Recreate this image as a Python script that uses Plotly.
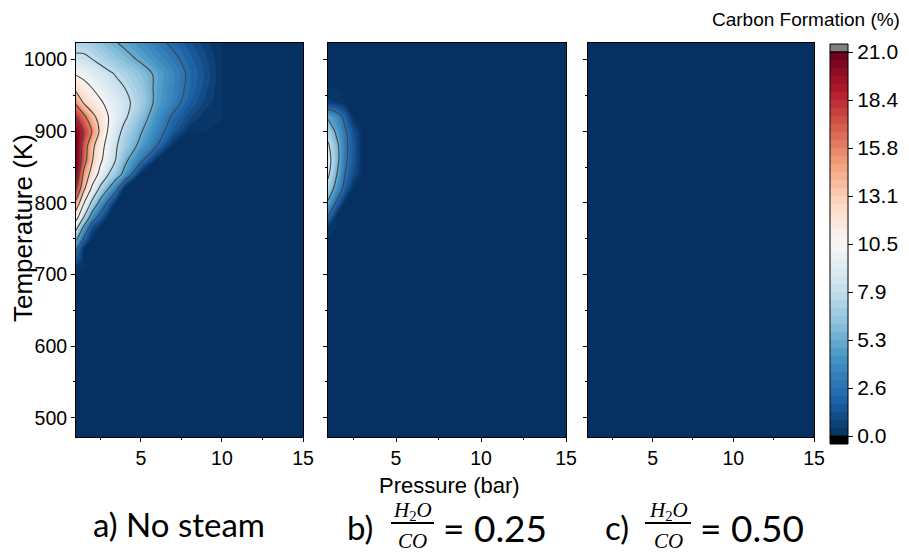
import plotly.graph_objects as go

# ---------------- data ----------------
pressure = [1, 1.5, 2, 2.5, 3, 3.5, 4, 5, 6, 7, 8, 9, 10, 11, 12, 15]
temperature = [473.15, 700, 710, 720, 735, 750, 765, 780, 800, 820, 840, 860,
               880, 900, 920, 940, 960, 980, 1000, 1023.15]

# a) No steam  (rows follow temperature, columns follow pressure)
carbon_a = [
    [0, 0, 0, 0, 0, 0, 0, 0, 0, 0, 0, 0, 0, 0, 0, 0],
    [0, 0, 0, 0, 0, 0, 0, 0, 0, 0, 0, 0, 0, 0, 0, 0],
    [0.3, 0, 0, 0, 0, 0, 0, 0, 0, 0, 0, 0, 0, 0, 0, 0],
    [1.5, 0, 0, 0, 0, 0, 0, 0, 0, 0, 0, 0, 0, 0, 0, 0],
    [3.0, 0, 0, 0, 0, 0, 0, 0, 0, 0, 0, 0, 0, 0, 0, 0],
    [5.8, 2.2, 0, 0, 0, 0, 0, 0, 0, 0, 0, 0, 0, 0, 0, 0],
    [8.5, 4.5, 1.2, 0, 0, 0, 0, 0, 0, 0, 0, 0, 0, 0, 0, 0],
    [11.5, 7.7, 4.0, 1.8, 0, 0, 0, 0, 0, 0, 0, 0, 0, 0, 0, 0],
    [15.0, 10.5, 7.3, 4.5, 2.2, 0, 0, 0, 0, 0, 0, 0, 0, 0, 0, 0],
    [18.5, 13.5, 10.0, 7.4, 5.25, 3.1, 0, 0, 0, 0, 0, 0, 0, 0, 0, 0],
    [20.5, 15.0, 12.0, 9.8, 7.9, 6.3, 4.6, 0, 0, 0, 0, 0, 0, 0, 0, 0],
    [21.0, 16.8, 13.3, 10.9, 9.2, 7.7, 5.8, 3.1, 0, 0, 0, 0, 0, 0, 0, 0],
    [21.0, 17.2, 13.8, 11.4, 9.6, 8.0, 6.8, 4.7, 2.6, 0, 0, 0, 0, 0, 0, 0],
    [20.5, 18.0, 15.6, 12.6, 10.2, 8.6, 7.3, 5.4, 3.5, 1.6, 0, 0, 0, 0, 0, 0],
    [18.3, 16.3, 13.8, 12.2, 10.5, 9.3, 8.2, 6.2, 4.1, 2.3, 1.0, 0.1, 0, 0, 0, 0],
    [15.3, 12.8, 11.7, 10.8, 9.9, 9.1, 8.4, 6.9, 4.7, 3.3, 1.8, 0.7, 0, 0, 0, 0],
    [12.5, 11.4, 10.5, 9.7, 9.0, 8.4, 7.9, 6.6, 4.8, 3.5, 2.2, 1.0, 0, 0, 0, 0],
    [10.3, 9.8, 9.3, 8.7, 8.2, 7.7, 7.2, 6.1, 4.9, 3.6, 2.3, 1.2, 0, 0, 0, 0],
    [8.3, 8.3, 7.9, 7.4, 6.9, 6.4, 5.9, 5.0, 4.0, 3.0, 2.0, 1.0, 0, 0, 0, 0],
    [7.2, 7.1, 6.7, 6.2, 5.7, 5.3, 4.9, 4.0, 3.1, 2.3, 1.4, 0.6, 0, 0, 0, 0],
]

# b) H2O/CO = 0.25
carbon_b = [
    [0, 0, 0, 0, 0, 0, 0, 0, 0, 0, 0, 0, 0, 0, 0, 0],
    [0, 0, 0, 0, 0, 0, 0, 0, 0, 0, 0, 0, 0, 0, 0, 0],
    [0, 0, 0, 0, 0, 0, 0, 0, 0, 0, 0, 0, 0, 0, 0, 0],
    [0, 0, 0, 0, 0, 0, 0, 0, 0, 0, 0, 0, 0, 0, 0, 0],
    [0, 0, 0, 0, 0, 0, 0, 0, 0, 0, 0, 0, 0, 0, 0, 0],
    [0, 0, 0, 0, 0, 0, 0, 0, 0, 0, 0, 0, 0, 0, 0, 0],
    [0.3, 0, 0, 0, 0, 0, 0, 0, 0, 0, 0, 0, 0, 0, 0, 0],
    [2.6, 0, 0, 0, 0, 0, 0, 0, 0, 0, 0, 0, 0, 0, 0, 0],
    [4.9, 2.3, 0, 0, 0, 0, 0, 0, 0, 0, 0, 0, 0, 0, 0, 0],
    [7.0, 4.3, 1.9, 0, 0, 0, 0, 0, 0, 0, 0, 0, 0, 0, 0, 0],
    [8.3, 5.4, 2.6, 1.1, 0, 0, 0, 0, 0, 0, 0, 0, 0, 0, 0, 0],
    [8.8, 6.1, 3.0, 1.5, 0, 0, 0, 0, 0, 0, 0, 0, 0, 0, 0, 0],
    [8.2, 5.9, 3.1, 1.6, 0, 0, 0, 0, 0, 0, 0, 0, 0, 0, 0, 0],
    [7.0, 4.8, 2.9, 1.2, 0, 0, 0, 0, 0, 0, 0, 0, 0, 0, 0, 0],
    [4.9, 3.8, 2.0, 0, 0, 0, 0, 0, 0, 0, 0, 0, 0, 0, 0, 0],
    [0.6, 0.4, 0, 0, 0, 0, 0, 0, 0, 0, 0, 0, 0, 0, 0, 0],
    [0, 0, 0, 0, 0, 0, 0, 0, 0, 0, 0, 0, 0, 0, 0, 0],
    [0, 0, 0, 0, 0, 0, 0, 0, 0, 0, 0, 0, 0, 0, 0, 0],
    [0, 0, 0, 0, 0, 0, 0, 0, 0, 0, 0, 0, 0, 0, 0, 0],
    [0, 0, 0, 0, 0, 0, 0, 0, 0, 0, 0, 0, 0, 0, 0, 0],
]

# c) H2O/CO = 0.50 (no carbon formation anywhere)
carbon_c = [
    [0, 0, 0, 0, 0, 0, 0, 0, 0, 0, 0, 0, 0, 0, 0, 0],
    [0, 0, 0, 0, 0, 0, 0, 0, 0, 0, 0, 0, 0, 0, 0, 0],
    [0, 0, 0, 0, 0, 0, 0, 0, 0, 0, 0, 0, 0, 0, 0, 0],
    [0, 0, 0, 0, 0, 0, 0, 0, 0, 0, 0, 0, 0, 0, 0, 0],
    [0, 0, 0, 0, 0, 0, 0, 0, 0, 0, 0, 0, 0, 0, 0, 0],
    [0, 0, 0, 0, 0, 0, 0, 0, 0, 0, 0, 0, 0, 0, 0, 0],
    [0, 0, 0, 0, 0, 0, 0, 0, 0, 0, 0, 0, 0, 0, 0, 0],
    [0, 0, 0, 0, 0, 0, 0, 0, 0, 0, 0, 0, 0, 0, 0, 0],
    [0, 0, 0, 0, 0, 0, 0, 0, 0, 0, 0, 0, 0, 0, 0, 0],
    [0, 0, 0, 0, 0, 0, 0, 0, 0, 0, 0, 0, 0, 0, 0, 0],
    [0, 0, 0, 0, 0, 0, 0, 0, 0, 0, 0, 0, 0, 0, 0, 0],
    [0, 0, 0, 0, 0, 0, 0, 0, 0, 0, 0, 0, 0, 0, 0, 0],
    [0, 0, 0, 0, 0, 0, 0, 0, 0, 0, 0, 0, 0, 0, 0, 0],
    [0, 0, 0, 0, 0, 0, 0, 0, 0, 0, 0, 0, 0, 0, 0, 0],
    [0, 0, 0, 0, 0, 0, 0, 0, 0, 0, 0, 0, 0, 0, 0, 0],
    [0, 0, 0, 0, 0, 0, 0, 0, 0, 0, 0, 0, 0, 0, 0, 0],
    [0, 0, 0, 0, 0, 0, 0, 0, 0, 0, 0, 0, 0, 0, 0, 0],
    [0, 0, 0, 0, 0, 0, 0, 0, 0, 0, 0, 0, 0, 0, 0, 0],
    [0, 0, 0, 0, 0, 0, 0, 0, 0, 0, 0, 0, 0, 0, 0, 0],
    [0, 0, 0, 0, 0, 0, 0, 0, 0, 0, 0, 0, 0, 0, 0, 0],
]

cbar_tickvals = [0, 2.625, 5.25, 7.875, 10.5, 13.125, 15.75, 18.375, 21.0]
cbar_ticktext = ["0.0", "2.6", "5.3", "7.9", "10.5", "13.1", "15.8", "18.4", "21.0"]
x_ticks = [5, 10, 15]
y_ticks = [500, 600, 700, 800, 900, 1000]
panel_labels = ["a) No steam", "b)", "c)"]
ratio_texts = ["= 0.25", "= 0.50"]

# ---------------- style ----------------
W, H = 909, 555
RDBU_R = [
    [0.0, "rgb(5,48,97)"], [0.1, "rgb(33,102,172)"], [0.2, "rgb(67,147,195)"],
    [0.3, "rgb(146,197,222)"], [0.4, "rgb(209,229,240)"], [0.5, "rgb(247,247,247)"],
    [0.6, "rgb(253,219,199)"], [0.7, "rgb(244,165,130)"], [0.8, "rgb(214,96,77)"],
    [0.9, "rgb(178,24,43)"], [1.0, "rgb(103,0,31)"],
]
SANS = "Liberation Sans, Arial"
TICKFONT = dict(family=SANS, size=19.5, color="black")
LABELFONT = dict(family="Lato, Open Sans", size=33, color="black")


def px(x):
    return x / W


def py(y):
    return 1 - y / H


fig = go.Figure()
panels = [(carbon_a, "x", "y"), (carbon_b, "x2", "y2"), (carbon_c, "x3", "y3")]
for i, (z, xa, ya) in enumerate(panels):
    fig.add_trace(go.Contour(
        x=pressure, y=temperature, z=z, xaxis=xa, yaxis=ya,
        colorscale=RDBU_R, zmin=0, zmax=21, autocontour=False,
        contours=dict(start=0, end=21, size=21 / 48, coloring="fill", showlines=False),
        line=dict(width=0, smoothing=1.0),
        showscale=(i == 0),
        colorbar=dict(
            x=px(830), xanchor="left", xpad=0, ypad=0,
            y=py(244), yanchor="middle", len=384 / H, lenmode="fraction",
            thickness=18, thicknessmode="pixels",
            outlinecolor="black", outlinewidth=1,
            tickmode="array", tickvals=cbar_tickvals, ticktext=cbar_ticktext,
            ticks="outside", ticklen=5, tickcolor="black",
            tickfont=dict(family=SANS, size=21, color="black"),
        ),
        hoverinfo="skip",
    ))
    fig.add_trace(go.Contour(
        x=pressure, y=temperature, z=z, xaxis=xa, yaxis=ya,
        autocontour=False,
        contours=dict(start=2.625, end=18.375, size=2.625, coloring="none", showlines=True),
        line=dict(color="#454545", width=1.1, smoothing=1.0),
        showscale=False, hoverinfo="skip",
    ))

domains_x = [(76, 303), (328, 566), (588, 814)]
for i, (a, b) in enumerate(domains_x):
    sfx = "" if i == 0 else str(i + 1)
    fig.layout["xaxis" + sfx] = dict(
        domain=[px(a), px(b)], range=[1, 15], anchor="y" + sfx,
        tickmode="array", tickvals=x_ticks, ticks="outside", ticklen=4,
        tickcolor="black", tickfont=TICKFONT,
        minor=dict(tick0=0, dtick=2.5, ticks="outside", ticklen=2, tickcolor="black"),
        showline=True, mirror=True, linecolor="black", linewidth=1,
        showgrid=False, zeroline=False,
    )
    fig.layout["yaxis" + sfx] = dict(
        domain=[py(437), py(43)], range=[473.15, 1023.15], anchor="x" + sfx,
        tickmode="array", tickvals=y_ticks, ticks="outside", ticklen=4,
        tickcolor="black", tickfont=TICKFONT, showticklabels=(i == 0),
        minor=dict(tick0=0, dtick=50, ticks="outside", ticklen=2, tickcolor="black"),
        showline=True, mirror=True, linecolor="black", linewidth=1,
        showgrid=False, zeroline=False,
    )

shapes = [
    dict(type="rect", xref="paper", yref="paper", x0=px(830), x1=px(848),
         y0=py(52), y1=py(44), fillcolor="rgb(128,128,128)", line=dict(color="black", width=1)),
    dict(type="rect", xref="paper", yref="paper", x0=px(830), x1=px(848),
         y0=py(444), y1=py(436), fillcolor="black", line=dict(color="black", width=1)),
    dict(type="line", xref="paper", yref="paper", x0=px(391), x1=px(434),
         y0=py(523), y1=py(523), line=dict(color="black", width=2)),
    dict(type="line", xref="paper", yref="paper", x0=px(645), x1=px(691),
         y0=py(523), y1=py(523), line=dict(color="black", width=2)),
]


def note(text, x, y, font, angle=0):
    return dict(text=text, x=px(x), y=py(y), xref="paper", yref="paper",
                xanchor="center", yanchor="middle", showarrow=False,
                textangle=angle, font=font)


ann = [
    note("Carbon Formation (%)", 806, 20, dict(family=SANS, size=19, color="black")),
    note("Temperature (K)", 23, 228, dict(family=SANS, size=26, color="black"), -90),
    note("Pressure (bar)", 449, 485, dict(family=SANS, size=22, color="black")),
    note(panel_labels[0], 179, 524, LABELFONT),
]
for lab_x, frac_x, eq_x, lab, eq in [(360, 412, 495, panel_labels[1], ratio_texts[0]),
                                     (617, 668, 752, panel_labels[2], ratio_texts[1])]:
    ann.append(note(lab, lab_x, 527, LABELFONT))
    ann.append(note("<i>H</i><sub>2</sub><i>O</i>", frac_x, 511,
                    dict(family="Liberation Serif", size=21, color="black")))
    ann.append(note("<i>CO</i>", frac_x, 541,
                    dict(family="Liberation Serif", size=21, color="black")))
    ann.append(note(eq, eq_x, 527, dict(family="Lato, Open Sans", size=37, color="black")))

fig.update_layout(
    width=W, height=H,
    margin=dict(l=0, r=0, t=0, b=0, pad=0, autoexpand=False),
    paper_bgcolor="white", plot_bgcolor="white",
    showlegend=False, shapes=shapes, annotations=ann,
)

fig.write_html("out.html")
